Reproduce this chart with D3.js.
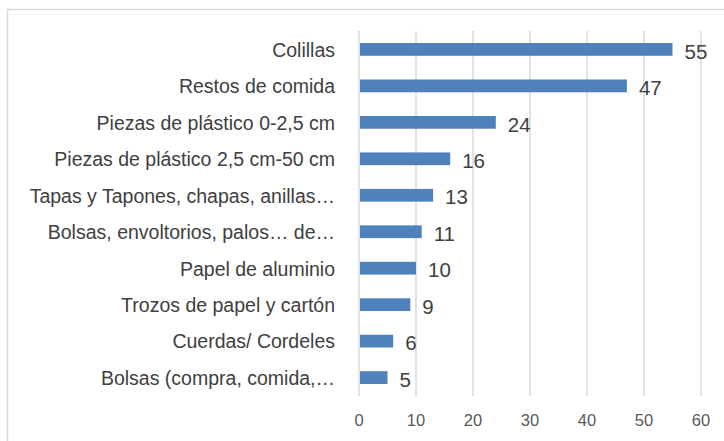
<!DOCTYPE html>
<html>
<head>
<meta charset="utf-8">
<script src="https://cdn.jsdelivr.net/npm/d3@7"></script>
<style>
  body { margin: 0; background: #fff; }
  svg { display: block; }
</style>
</head>
<body>
<div class="chart"></div>
<script>
// data
const categories = [
  "Colillas",
  "Restos de comida",
  "Piezas de plástico 0-2,5 cm",
  "Piezas de plástico 2,5 cm-50 cm",
  "Tapas y Tapones, chapas, anillas…",
  "Bolsas, envoltorios, palos… de…",
  "Papel de aluminio",
  "Trozos de papel y cartón",
  "Cuerdas/ Cordeles",
  "Bolsas (compra, comida,…"
];
const values = [55, 47, 24, 16, 13, 11, 10, 9, 6, 5];
const ticks = [0, 10, 20, 30, 40, 50, 60];

const width = 724;
const height = 441;
const font = "'Liberation Sans', Arial, sans-serif";

const svg = d3.select('.chart')
  .append('svg')
  .attr('width', width)
  .attr('height', height);

// chart frame (right / bottom edges fall outside the picture)
svg.append('rect')
  .attr('x', 7.5)
  .attr('y', 9.5)
  .attr('width', 760)
  .attr('height', 480)
  .attr('fill', 'none')
  .attr('stroke', '#d9d9d9')
  .attr('stroke-width', 1.5);

const x = d3.scaleLinear().domain([0, 60]).range([359, 701]);
const y = d3.scaleBand().domain(categories).range([31, 396]).paddingInner(0.65).paddingOuter(0.33);

// gridlines
svg.selectAll('line.grid')
  .data(ticks)
  .enter()
  .append('line')
  .attr('class', 'grid')
  .attr('x1', d => x(d))
  .attr('x2', d => x(d))
  .attr('y1', 31)
  .attr('y2', 396)
  .attr('stroke', '#d9d9d9')
  .attr('stroke-width', 1.5);

// x tick labels
svg.selectAll('text.tick')
  .data(ticks)
  .enter()
  .append('text')
  .attr('class', 'tick')
  .attr('x', d => x(d))
  .attr('y', 420.5)
  .attr('dy', '0.35em')
  .attr('text-anchor', 'middle')
  .attr('font-family', font)
  .attr('font-size', 16.5)
  .attr('fill', '#595959')
  .text(d => d);

// bars
svg.selectAll('rect.bar')
  .data(values)
  .enter()
  .append('rect')
  .attr('class', 'bar')
  .attr('x', x(0) + 1)
  .attr('y', (d, i) => y(categories[i]))
  .attr('width', d => x(d) - x(0) - 1)
  .attr('height', y.bandwidth())
  .attr('fill', '#4f81bd');

// value labels
svg.selectAll('text.value')
  .data(values)
  .enter()
  .append('text')
  .attr('class', 'value')
  .attr('x', d => x(d) + 12)
  .attr('y', (d, i) => y(categories[i]) + y.bandwidth() / 2 + 2)
  .attr('dy', '0.35em')
  .attr('font-family', font)
  .attr('font-size', 20.5)
  .attr('fill', '#404040')
  .text(d => d);

// category labels
svg.selectAll('text.cat')
  .data(categories)
  .enter()
  .append('text')
  .attr('class', 'cat')
  .attr('x', 335)
  .attr('y', d => y(d) + y.bandwidth() / 2 + 0.5)
  .attr('dy', '0.35em')
  .attr('text-anchor', 'end')
  .attr('font-family', font)
  .attr('font-size', 19.5)
  .attr('fill', '#404040')
  .text(d => d);
</script>
</body>
</html>
